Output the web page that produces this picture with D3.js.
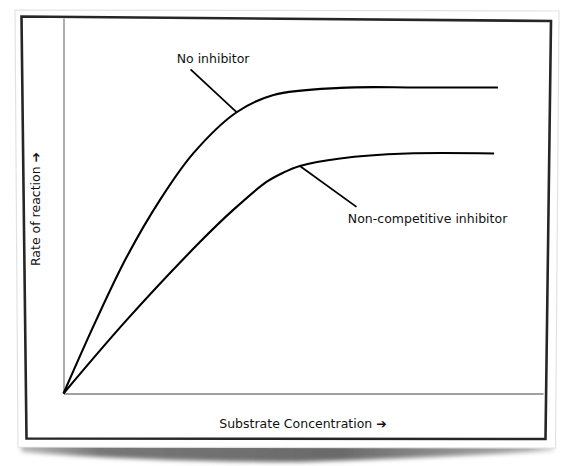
<!DOCTYPE html>
<html>
<head>
<meta charset="utf-8">
<script src="https://cdn.jsdelivr.net/npm/d3@7"></script>
<style>
  html, body { margin: 0; padding: 0; background: #fff; }
  svg { display: block; }
  text { font-family: "DejaVu Sans", sans-serif; fill: #111; }
</style>
</head>
<body>
<svg id="chart" width="572" height="466"></svg>
<script>
// ---- Data (arbitrary units) ----
const substrate_noInhibitor = [0, 0.67, 1.32, 2.01, 2.71, 3.61, 4.38, 5.77, 7.43, 9.06];
const rate_noInhibitor      = [0, 1.92, 3.64, 5.15, 6.40, 7.49, 7.95, 8.14, 8.15, 8.15];

const substrate_nonCompetitive = [0, 1.32, 2.85, 3.54, 4.24, 4.58, 4.93, 5.77, 7.16, 8.98];
const rate_nonCompetitive      = [0, 1.96, 4.04, 4.89, 5.64, 5.88, 6.06, 6.26, 6.39, 6.39];

const seriesLabels = ["No inhibitor", "Non-competitive inhibitor"];
// annotation leader lines [x1, y1, x2, y2] and label anchor [x, y] in data units
const leaderLines = [[2.65, 8.63, 3.62, 7.48], [4.93, 6.06, 6.11, 4.97]];
const labelAnchors = [[2.36, 8.81], [5.93, 4.54]];

const xAxisTitle = "Substrate Concentration \u2794";
const yAxisTitle = "Rate of reaction \u2794";

// ---- Drawing ----
const svg = d3.select("#chart");
const defs = svg.append("defs");
defs.append("filter").attr("id", "blur").attr("x", "-10%").attr("y", "-50%").attr("width", "120%").attr("height", "200%")
  .append("feGaussianBlur").attr("stdDeviation", 2.2);
const grad = defs.append("linearGradient").attr("id", "shadowGrad").attr("x1", 0).attr("x2", 1).attr("y1", 0).attr("y2", 0);
grad.append("stop").attr("offset", "0%").attr("stop-color", "#bbb");
grad.append("stop").attr("offset", "15%").attr("stop-color", "#777");
grad.append("stop").attr("offset", "60%").attr("stop-color", "#6a6a6a");
grad.append("stop").attr("offset", "95%").attr("stop-color", "#aaa");
grad.append("stop").attr("offset", "100%").attr("stop-color", "#ddd");

// curled shadow under the card
svg.append("path")
  .attr("d", "M20,443 L554,445 L554,451 Q420,458 300,462 Q150,462 22,452 Z")
  .attr("fill", "url(#shadowGrad)")
  .attr("filter", "url(#blur)");

// card
svg.append("path")
  .attr("d", "M15,10 L559,11 L555.5,448 L18,447 Z")
  .attr("fill", "#fff")
  .attr("stroke", "#e2e2e2")
  .attr("stroke-width", 1.2);

// inner dark border
svg.append("path")
  .attr("d", "M21.5,16.5 L551,21 L545.5,439 L26.5,438.5 Z")
  .attr("fill", "none")
  .attr("stroke", "#262626")
  .attr("stroke-width", 2.6)
  .attr("stroke-linejoin", "miter");

const x = d3.scaleLinear().domain([0, 10]).range([63.5, 543]);
const y = d3.scaleLinear().domain([0, 10]).range([393.5, 18]);

// axes (plain lines, no ticks)
const xAxis = d3.axisBottom(x).tickValues([]).tickSize(0).tickSizeOuter(0);
const yAxis = d3.axisLeft(y).tickValues([]).tickSize(0).tickSizeOuter(0);
svg.append("g").attr("transform", `translate(0,${y(0)})`).call(xAxis)
  .select(".domain").attr("stroke", "#808080").attr("stroke-width", 1.3);
svg.append("g").attr("transform", `translate(${x(0)},0)`).call(yAxis)
  .select(".domain").attr("stroke", "#808080").attr("stroke-width", 1.3);

const line = d3.line().x(d => x(d[0])).y(d => y(d[1])).curve(d3.curveCatmullRom.alpha(0.5));
const series = [
  d3.zip(substrate_noInhibitor, rate_noInhibitor),
  d3.zip(substrate_nonCompetitive, rate_nonCompetitive)
];
svg.append("g").selectAll("path").data(series).join("path")
  .attr("d", line)
  .attr("fill", "none")
  .attr("stroke", "#000")
  .attr("stroke-width", 2.1)
  .attr("stroke-linecap", "butt");

svg.append("g").selectAll("line").data(leaderLines).join("line")
  .attr("x1", d => x(d[0])).attr("y1", d => y(d[1]))
  .attr("x2", d => x(d[2])).attr("y2", d => y(d[3]))
  .attr("stroke", "#000").attr("stroke-width", 1.8);

svg.append("g").selectAll("text").data(seriesLabels).join("text")
  .attr("x", (d, i) => x(labelAnchors[i][0]))
  .attr("y", (d, i) => y(labelAnchors[i][1]))
  .attr("font-size", 12.5)
  .text(d => d);

svg.append("text")
  .attr("x", 303).attr("y", 428)
  .attr("text-anchor", "middle")
  .attr("font-size", 12.5)
  .text(xAxisTitle);

svg.append("text")
  .attr("transform", "translate(40,209) rotate(-90)")
  .attr("text-anchor", "middle")
  .attr("font-size", 12.5)
  .text(yAxisTitle);
</script>
</body>
</html>
